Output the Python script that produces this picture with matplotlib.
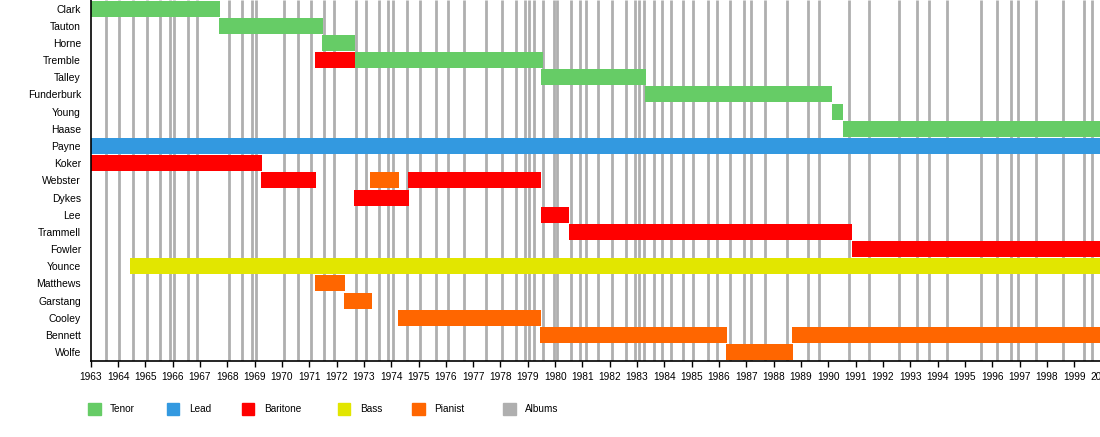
import matplotlib
matplotlib.use("Agg")
import matplotlib.pyplot as plt
from matplotlib.patches import Rectangle

plt.rcParams['font.family'] = ['Liberation Sans', 'DejaVu Sans']

# members, top to bottom
members = ["Clark", "Tauton", "Horne", "Tremble", "Talley", "Funderburk", "Young", "Haase",
           "Payne", "Koker", "Webster", "Dykes", "Lee", "Trammell", "Fowler", "Younce",
           "Matthews", "Garstang", "Cooley", "Bennett", "Wolfe"]

# each stint: member, start, end, role
stint_member = ["Clark", "Tauton", "Horne", "Tremble", "Tremble", "Talley", "Funderburk", "Young",
                "Haase", "Payne", "Koker", "Webster", "Webster", "Webster", "Dykes", "Lee",
                "Trammell", "Fowler", "Younce", "Matthews", "Garstang", "Cooley", "Bennett",
                "Bennett", "Wolfe"]
stint_start = [1963.0, 1967.7, 1971.47, 1971.21, 1972.67, 1979.5, 1983.3, 1990.12,
               1990.53, 1963.0, 1963.0, 1969.23, 1973.22, 1974.6, 1972.64, 1979.48,
               1980.5, 1990.85, 1964.44, 1971.21, 1972.27, 1974.26, 1979.45,
               1988.67, 1986.26]
stint_end = [1967.72, 1971.5, 1972.67, 1972.67, 1979.54, 1983.31, 1990.12, 1990.53,
             2000.0, 2000.0, 1969.26, 1971.23, 1974.3, 1979.5, 1974.65, 1980.51,
             1990.85, 2000.0, 2000.0, 1972.31, 1973.29, 1979.48, 1986.28,
             2000.0, 1988.7]
stint_role = ["Tenor", "Tenor", "Tenor", "Baritone", "Tenor", "Tenor", "Tenor", "Tenor",
              "Tenor", "Lead", "Baritone", "Baritone", "Pianist", "Baritone", "Baritone", "Baritone",
              "Baritone", "Baritone", "Bass", "Pianist", "Pianist", "Pianist", "Pianist",
              "Pianist", "Pianist"]

albums = [1963.56, 1964.04, 1964.55, 1965.05, 1965.55, 1965.90, 1966.05, 1966.55, 1966.89,
          1968.06, 1968.55, 1968.89, 1969.06, 1970.08, 1970.58, 1971.05, 1971.53, 1971.89,
          1972.72, 1973.09, 1973.56, 1973.87, 1974.05, 1974.57, 1975.05, 1975.63, 1976.09,
          1976.66, 1977.47, 1978.04, 1978.57, 1978.90, 1979.05, 1979.23, 1979.57, 1979.96,
          1980.06, 1980.59, 1980.91, 1981.13, 1981.56, 1982.09, 1982.59, 1982.92, 1983.06,
          1983.26, 1983.62, 1983.90, 1984.23, 1984.67, 1985.06, 1985.58, 1985.91, 1986.40,
          1986.91, 1987.17, 1987.68, 1988.49, 1989.24, 1989.66, 1990.76, 1991.49, 1992.59,
          1993.23, 1993.68, 1994.34, 1995.58, 1996.16, 1996.67, 1996.93, 1997.59, 1998.59,
          1999.36, 1999.65]

roles = ["Tenor", "Lead", "Baritone", "Bass", "Pianist", "Albums"]
role_colors = {"Tenor": "#66cc66", "Lead": "#3399e0", "Baritone": "#ff0000",
               "Bass": "#e2e600", "Pianist": "#ff6600", "Albums": "#afafaf"}

W, H = 1100, 437
fig = plt.figure(figsize=(W / 100, H / 100), dpi=100)
ax = fig.add_axes([90.7 / W, (H - 360.7) / H, 1010.8 / W, 360.7 / H])

ax.vlines(albums, -0.5, len(members) - 0.5, color=role_colors["Albums"], lw=2, zorder=1)

rows = [members.index(m) for m in stint_member]
widths = [e - s for s, e in zip(stint_start, stint_end)]
ax.barh(rows, widths, left=stint_start, height=0.93,
        color=[role_colors[r] for r in stint_role], zorder=2)

ax.set_xlim(1963, 2000)
ax.set_ylim(len(members) - 0.5, -0.5)
ax.set_yticks(range(len(members)))
ax.set_yticklabels(members, fontsize=7.5)
ax.tick_params(axis='y', length=0, pad=7)
ax.set_xticks(range(1963, 2001))
ax.set_xticklabels([str(y) for y in range(1963, 2001)], fontsize=7.3)
ax.tick_params(axis='x', length=4, width=1, pad=4)
for s in ["top", "right"]:
    ax.spines[s].set_visible(False)
for s in ["left", "bottom"]:
    ax.spines[s].set_linewidth(1.2)
    ax.spines[s].set_zorder(3)

# legend along the bottom
box_x = [88.0, 166.9, 241.9, 337.9, 412.2, 503.3]
for bx, role in zip(box_x, roles):
    fig.patches.append(Rectangle((bx / W, (H - 415) / H), 12.5 / W, 12 / H,
                                 transform=fig.transFigure, color=role_colors[role]))
    fig.text((bx + 22) / W, (H - 409.5) / H, role, fontsize=7.2, va='center', ha='left')

fig.savefig("out.png", dpi=100)
